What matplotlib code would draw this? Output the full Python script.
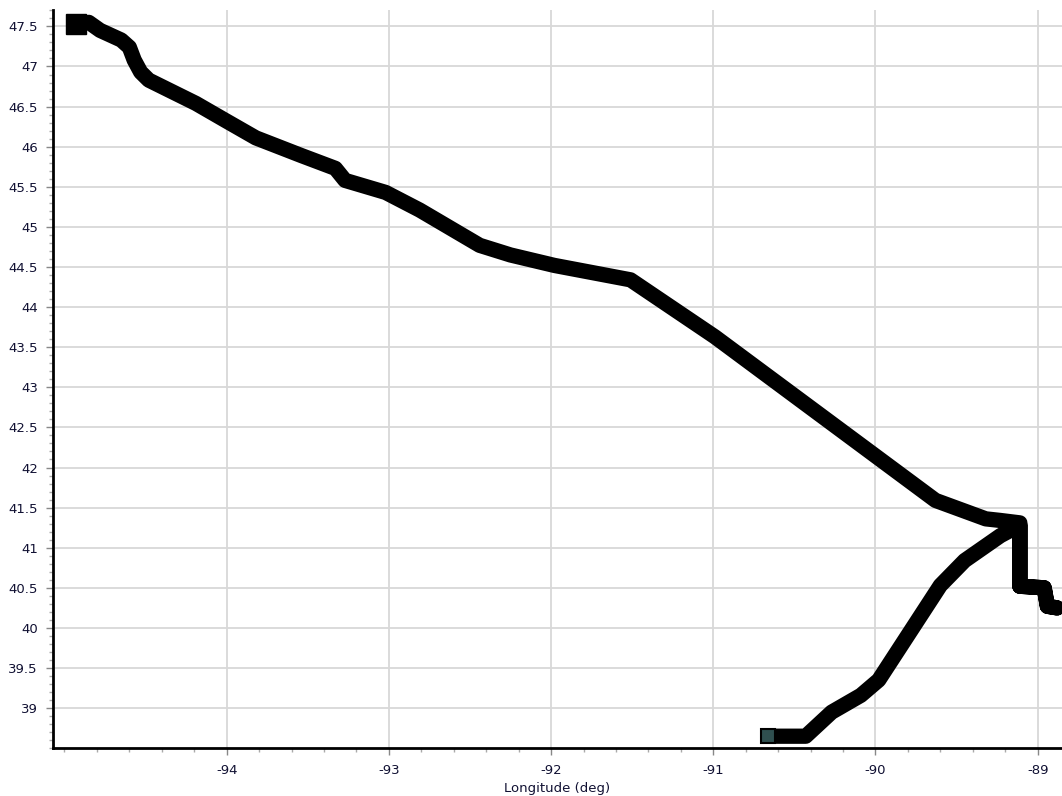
import matplotlib
matplotlib.use("Agg")
import matplotlib.pyplot as plt
from matplotlib.ticker import MultipleLocator

# track, from the start point (bottom) to the end point (top left)
lon = [-90.66, -90.43, -90.27, -90.09, -89.98, -89.60, -89.45, -89.23, -89.11,
       -89.11, -88.96, -88.94, -88.88, -88.94, -88.96, -89.11, -89.11,
       -89.23, -89.32, -89.63, -90.99, -91.51, -91.98, -92.25, -92.44,
       -92.81, -93.02, -93.27, -93.33, -93.54, -93.82, -94.01, -94.19,
       -94.48, -94.53, -94.57, -94.60, -94.65, -94.78, -94.85, -94.93]
lat = [38.65, 38.65, 38.95, 39.16, 39.35, 40.53, 40.84, 41.15, 41.28,
       40.52, 40.50, 40.27, 40.25, 40.27, 40.50, 40.52, 41.31,
       41.34, 41.36, 41.59, 43.63, 44.34, 44.52, 44.65, 44.77,
       45.21, 45.43, 45.58, 45.73, 45.89, 46.11, 46.33, 46.54,
       46.83, 46.93, 47.08, 47.24, 47.33, 47.45, 47.55, 47.53]

x_ticks = [-94, -93, -92, -91, -90, -89]
y_ticks = [39, 39.5, 40, 40.5, 41, 41.5, 42, 42.5, 43, 43.5, 44, 44.5,
           45, 45.5, 46, 46.5, 47, 47.5]

plt.rcParams["axes.unicode_minus"] = False

fig = plt.figure(figsize=(10.62, 7.96), dpi=100)
ax = fig.add_axes([0.05, 0.06, 0.95, 0.927])

ax.plot(lon, lat, color="black", linewidth=11, solid_joinstyle="round",
        solid_capstyle="butt", zorder=3)
# end point and start point markers
ax.plot(lon[-1], lat[-1], marker="s", markersize=15, color="black", zorder=4)
ax.plot(lon[0], lat[0], marker="s", markersize=10, markerfacecolor="#2f4f4f",
        markeredgecolor="black", markeredgewidth=1.5, zorder=4)

ax.set_xlim(-95.07, -88.85)
ax.set_ylim(38.5, 47.7)
ax.set_xticks(x_ticks)
ax.set_yticks(y_ticks)
ax.set_yticklabels([f"{v:g}" for v in y_ticks])
ax.xaxis.set_minor_locator(MultipleLocator(0.2))
ax.yaxis.set_minor_locator(MultipleLocator(0.1))

ax.grid(True, which="major", color="#d8d8d8", linewidth=1.3, zorder=0)
ax.tick_params(which="major", length=5, width=1, color="#888888",
               labelsize=9.5, labelcolor="#111133", pad=6)
ax.tick_params(which="minor", length=3, width=1, color="#aaaaaa")

for side in ["top", "right"]:
    ax.spines[side].set_visible(False)
ax.spines["left"].set_linewidth(2)
ax.spines["bottom"].set_linewidth(2)

ax.set_xlabel("Longitude (deg)", fontsize=9.5, color="#111133", labelpad=4)

fig.savefig("out.png", dpi=100)
